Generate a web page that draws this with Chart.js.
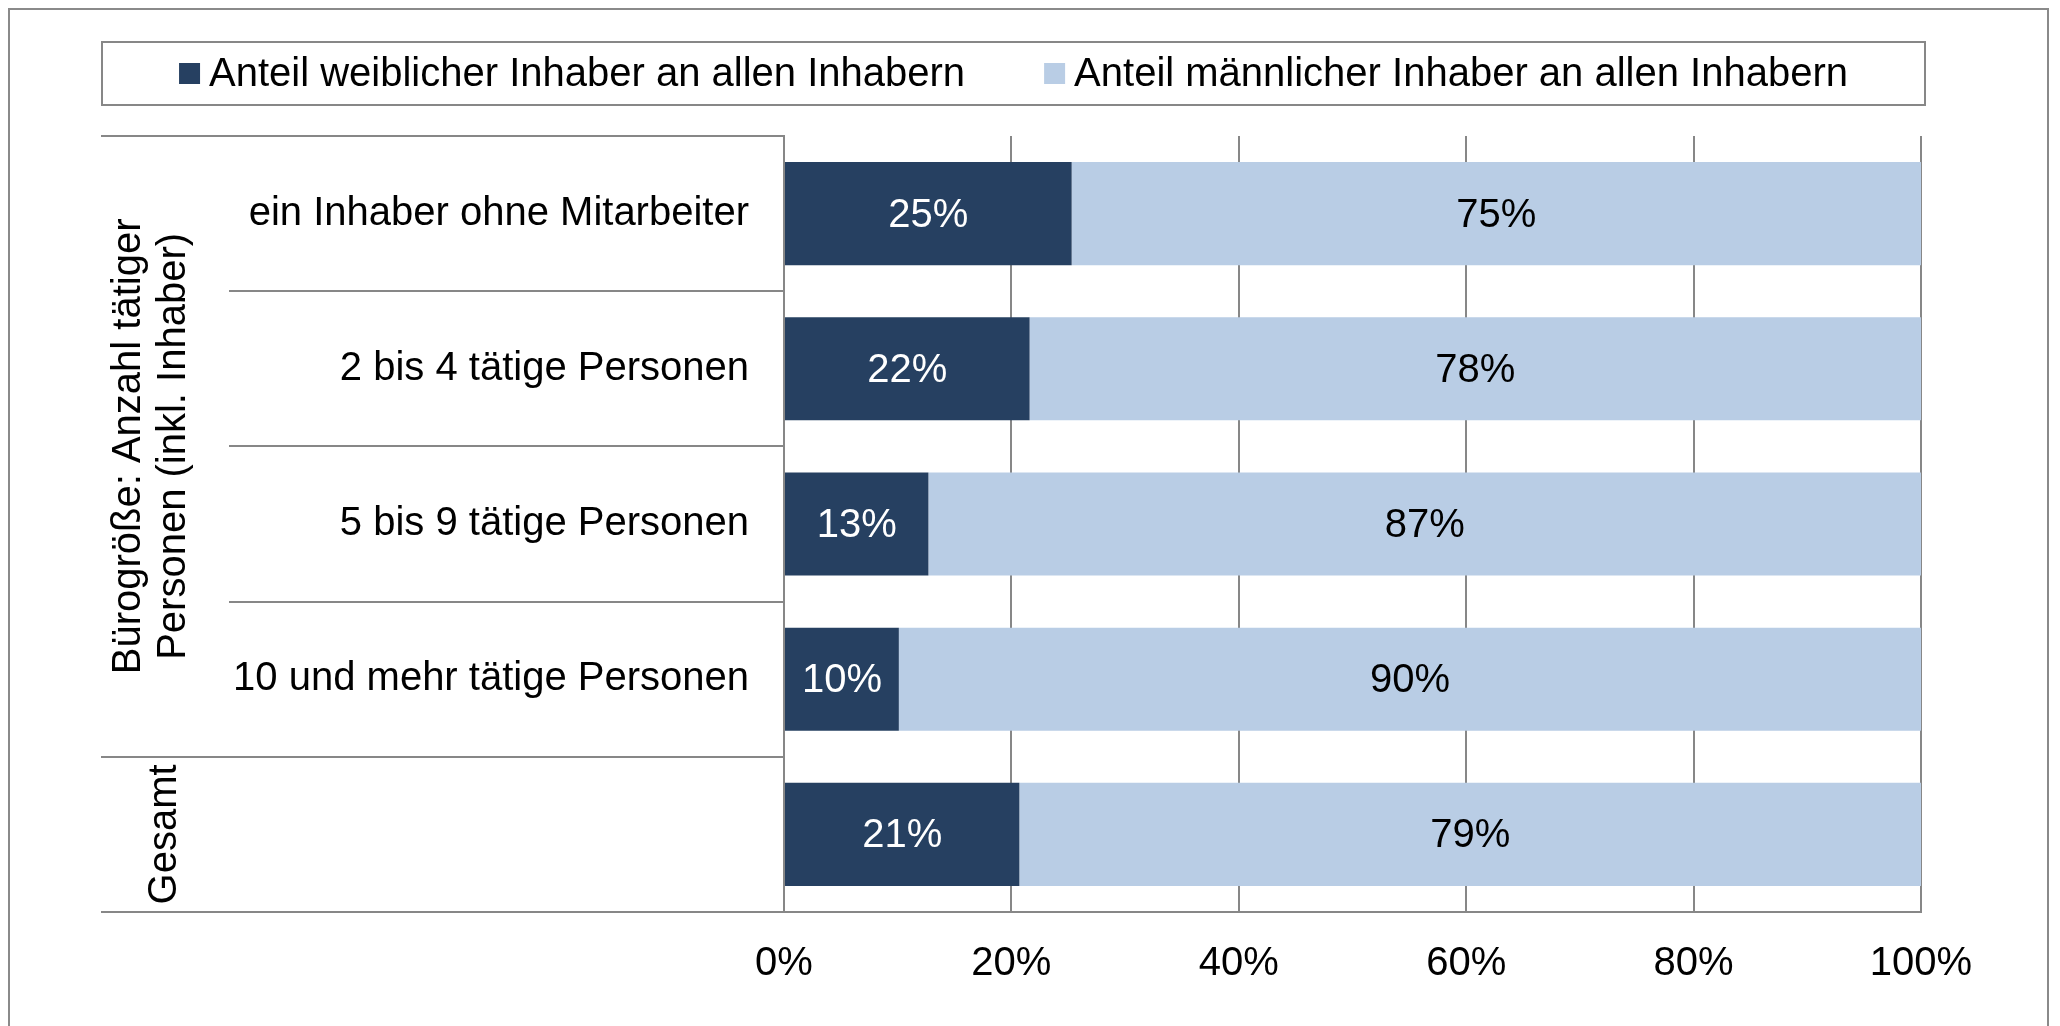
<!DOCTYPE html>
<html>
<head>
<meta charset="utf-8">
<script src="https://cdn.jsdelivr.net/npm/chart.js@4"></script>
<style>
  html, body { margin: 0; padding: 0; background: #ffffff; }
  #wrap { position: relative; width: 2060px; height: 1026px; }
</style>
</head>
<body>
<div id="wrap"><canvas id="c"></canvas></div>
<script>
// ---- data ----
const categories = ['ein Inhaber ohne Mitarbeiter', '2 bis 4 tätige Personen', '5 bis 9 tätige Personen', '10 und mehr tätige Personen', ''];
const seriesNames = ['Anteil weiblicher Inhaber an allen Inhabern', 'Anteil männlicher Inhaber an allen Inhabern'];
const womenShare = [25.3, 21.6, 12.7, 10.1, 20.7];
const menShare = [74.7, 78.4, 87.3, 89.9, 79.3];
const xTicks = [0, 20, 40, 60, 80, 100];
const groupTitles = [['Bürogröße: Anzahl tätiger', 'Personen (inkl. Inhaber)'], ['Gesamt']];
const groupFirst = [0, 4];
const groupLast = [3, 4];

// ---- styles ----
const FONT = '"Liberation Sans", Arial, Helvetica, sans-serif';
const DARK = '#264061';
const LIGHT = '#B9CDE5';
const GRID = '#878787';

const decor = {
  id: 'decor',
  beforeDraw(chart) {
    const ctx = chart.ctx;
    ctx.save();
    ctx.fillStyle = '#ffffff';
    ctx.fillRect(0, 0, chart.width, chart.height);
    ctx.strokeStyle = '#8a8a8a';
    ctx.lineWidth = 2;
    ctx.strokeRect(9, 9, 2039, 1040);
    ctx.restore();
  },
  afterDatasetsDraw(chart) {
    const ctx = chart.ctx;
    ctx.save();
    ctx.font = '40px ' + FONT;
    ctx.textAlign = 'center';
    ctx.textBaseline = 'middle';
    chart.data.datasets.forEach((ds, di) => {
      const meta = chart.getDatasetMeta(di);
      ctx.fillStyle = di === 0 ? '#ffffff' : '#000000';
      meta.data.forEach((bar, i) => {
        const p = bar.getCenterPoint();
        ctx.fillText(Math.round(ds.data[i]) + '%', p.x, p.y + 2);
      });
    });
    ctx.restore();
  },
  afterDraw(chart) {
    const ctx = chart.ctx;
    const ys = chart.scales.y;
    const area = chart.chartArea;
    const n = categories.length;
    const band = ys.getPixelForValue(1) - ys.getPixelForValue(0);
    const boundary = k => ys.getPixelForValue(0) - band / 2 + k * band;
    ctx.save();
    ctx.strokeStyle = GRID;
    ctx.lineWidth = 2;
    const outer = new Set([0, n]);
    groupFirst.forEach(g => outer.add(g));
    for (let k = 0; k <= n; k++) {
      const y = Math.round(boundary(k));
      const x0 = outer.has(k) ? 101 : 229;
      const x1 = k === n ? area.right : area.left;
      ctx.beginPath();
      ctx.moveTo(x0, y);
      ctx.lineTo(x1, y);
      ctx.stroke();
    }
    // group titles (rotated)
    ctx.fillStyle = '#000000';
    ctx.font = '40px ' + FONT;
    ctx.textAlign = 'center';
    ctx.textBaseline = 'alphabetic';
    groupTitles.forEach((lines, g) => {
      const yc = (boundary(groupFirst[g]) + boundary(groupLast[g] + 1)) / 2;
      const baseX = lines.length > 1 ? 140 : 176;
      ctx.save();
      ctx.translate(0, yc);
      ctx.rotate(-Math.PI / 2);
      lines.forEach((t, li) => {
        ctx.fillText(t, 0, baseX + li * 45);
      });
      ctx.restore();
    });
    // legend
    const lx0 = 102, ly0 = 42, lx1 = 1925, ly1 = 105;
    ctx.strokeStyle = GRID;
    ctx.lineWidth = 2;
    ctx.strokeRect(lx0, ly0, lx1 - lx0, ly1 - ly0);
    ctx.font = '40px ' + FONT;
    ctx.textAlign = 'left';
    ctx.textBaseline = 'middle';
    const box = 21, gapText = 9, gapItem = 79;
    const widths = chart.data.datasets.map(d => ctx.measureText(d.label).width);
    let total = 0;
    widths.forEach((w, i) => { total += box + gapText + w + (i < widths.length - 1 ? gapItem : 0); });
    let x = (lx0 + lx1) / 2 - total / 2;
    const cy = (ly0 + ly1) / 2;
    chart.data.datasets.forEach((d, i) => {
      ctx.fillStyle = d.backgroundColor;
      ctx.fillRect(x, cy - box / 2, box, box);
      ctx.fillStyle = '#000000';
      ctx.fillText(d.label, x + box + gapText, cy + 1);
      x += box + gapText + widths[i] + gapItem;
    });
    ctx.restore();
  }
};

new Chart(document.getElementById('c'), {
  type: 'bar',
  data: {
    labels: categories,
    datasets: [
      { label: seriesNames[0], data: womenShare, backgroundColor: DARK, borderWidth: 0 },
      { label: seriesNames[1], data: menShare, backgroundColor: LIGHT, borderWidth: 0 }
    ]
  },
  options: {
    indexAxis: 'y',
    responsive: true,
    maintainAspectRatio: false,
    animation: false,
    events: [],
    layout: { padding: { left: 0, right: 139, top: 136, bottom: 34 } },
    datasets: { bar: { barPercentage: 1, categoryPercentage: 0.664 } },
    plugins: { legend: { display: false }, tooltip: { enabled: false } },
    scales: {
      x: {
        stacked: true,
        min: 0,
        max: 100,
        afterBuildTicks: s => { s.ticks = xTicks.map(v => ({ value: v })); },
        afterFit: s => { s.height = 80; },
        grid: { display: true, color: GRID, lineWidth: 2, drawTicks: false },
        border: { display: true, color: GRID, width: 2 },
        ticks: {
          padding: 28,
          color: '#000000',
          font: { family: FONT, size: 40 },
          callback: v => v + '%'
        }
      },
      y: {
        stacked: true,
        afterFit: s => { s.width = 784; },
        grid: { display: false, drawTicks: false },
        border: { display: true, color: GRID, width: 2 },
        ticks: {
          padding: 35,
          color: '#000000',
          font: { family: FONT, size: 40 }
        }
      }
    }
  },
  plugins: [decor]
});
</script>
</body>
</html>
